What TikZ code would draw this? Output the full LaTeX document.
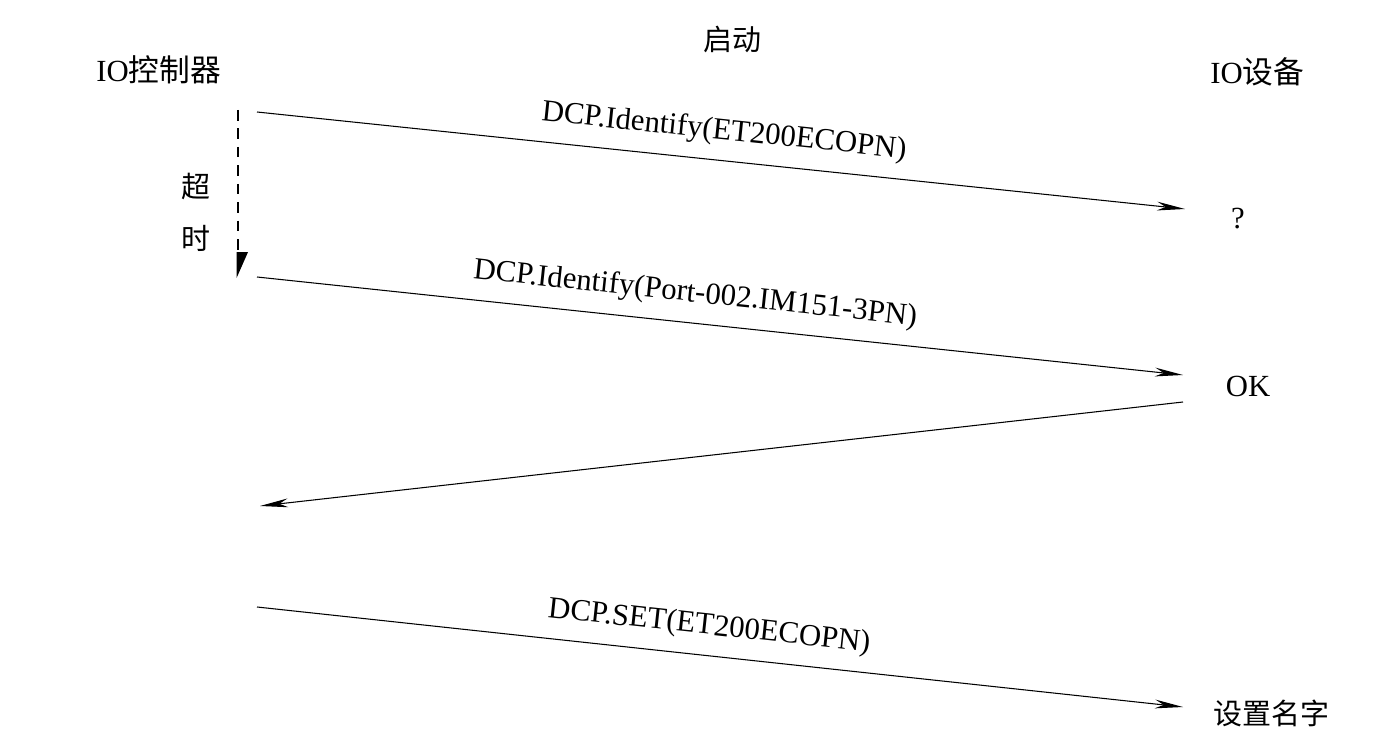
\documentclass[tikz,border=0pt]{standalone}
\usepackage{fontspec}
\setmainfont{Liberation Serif}
\newfontfamily\cjk{Noto Sans CJK SC}
\usetikzlibrary{arrows.meta}

\tikzset{
    msg/.style={-{Stealth[length=16pt,width=5pt,inset=5pt]}, line width=0.6pt},
    lbl/.style={font=\fontsize{17.5}{21}\selectfont, inner sep=2pt},
    zh/.style={font=\fontsize{16.5}{20}\selectfont\cjk, inner sep=0pt},
}

\begin{document}
\begin{tikzpicture}[x=0.02cm, y=-0.02cm]
\useasboundingbox (0,0) rectangle (1390,743);

% =============================================================================
% Headings
% =============================================================================
\node[zh] (start) at (732, 40) {启动};
\node[lbl, anchor=west, inner sep=0pt] (ctrl) at (96, 70) {IO{\cjk 控制器}};
\node[lbl, anchor=west, inner sep=0pt] (dev) at (1210, 72) {IO{\cjk 设备}};

% =============================================================================
% Timeout
% =============================================================================
\coordinate (t0) at (238, 110);
\coordinate (t1) at (238, 278);
\draw[line width=1.5pt, dash pattern=on 6pt off 4.5pt,
      -{Triangle[harpoon, length=13pt, width=11pt]}] (t0) -- (t1);
\node[zh] (chao) at (196, 186) {超};
\node[zh] (shi) at (196, 238) {时};

% =============================================================================
% Messages
% =============================================================================
\coordinate (a0) at (257, 112);
\coordinate (a1) at (1185, 209);
\node[lbl] (q) at (1238, 219) {?};
\draw[msg] (a0) -- node[lbl, sloped, above=6pt] (m1) {DCP.Identify(ET200ECOPN)} (a1);

\coordinate (b0) at (257, 277);
\coordinate (b1) at (1183, 375);
\node[lbl] (ok) at (1248, 386) {OK};
\draw[msg] (b0) -- node[lbl, sloped, above=6pt, pos=0.47] (m2) {DCP.Identify(Port-002.IM151-3PN)} (b1);

\coordinate (c0) at (1183, 402);
\coordinate (c1) at (260, 506);
\draw[msg] (c0) -- (c1);

\coordinate (d0) at (257, 607);
\coordinate (d1) at (1183, 707);
\node[zh] (name) at (1271, 713) {设置名字};
\draw[msg] (d0) -- node[lbl, sloped, above=6pt, pos=0.485] (m4) {DCP.SET(ET200ECOPN)} (d1);

\end{tikzpicture}
\end{document}
